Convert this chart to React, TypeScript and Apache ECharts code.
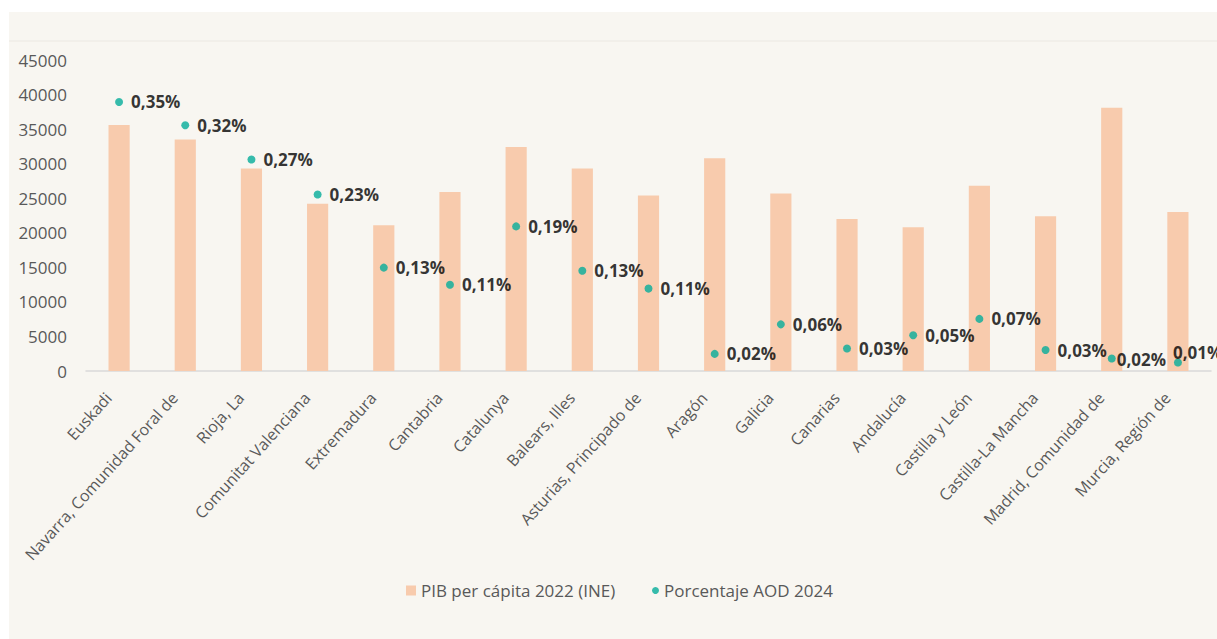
import React, { useEffect, useRef } from "react";
import * as echarts from "echarts";

const categories = [
  "Euskadi",
  "Navarra, Comunidad Foral de",
  "Rioja, La",
  "Comunitat Valenciana",
  "Extremadura",
  "Cantabria",
  "Catalunya",
  "Balears, Illes",
  "Asturias, Principado de",
  "Aragón",
  "Galicia",
  "Canarias",
  "Andalucía",
  "Castilla y León",
  "Castilla-La Mancha",
  "Madrid, Comunidad de",
  "Murcia, Región de",
];

const pibPerCapita = [
  35600, 33500, 29300, 24200, 21100, 25900, 32400, 29300, 25400, 30800, 25700,
  22000, 20800, 26800, 22400, 38100, 23000,
];

const aodPercent = [
  0.346, 0.316, 0.272, 0.227, 0.133, 0.111, 0.186, 0.129, 0.106, 0.022, 0.06,
  0.029, 0.046, 0.067, 0.027, 0.016, 0.011,
];

const yTicks = { min: 0, max: 45000, interval: 5000 };
const y2Range = { min: 0, max: 0.4 };

const seriesNames = ["PIB per cápita 2022 (INE)", "Porcentaje AOD 2024"];

// label nudges for crowded points (index -> offset)
const labelNudges: Record<number, number[]> = {
  15: [-7, 1],
  16: [-17, -10],
};

const FONT = "'Open Sans', 'Noto Sans', sans-serif";

export default function App() {
  const ref = useRef<HTMLDivElement>(null);

  useEffect(() => {
    if (!ref.current) return;
    const chart = echarts.init(ref.current, null, { renderer: "svg" });

    const scatterData = aodPercent.map((v, i) =>
      labelNudges[i]
        ? { value: v, label: { offset: labelNudges[i] } }
        : { value: v }
    );

    chart.setOption({
      animation: false,
      backgroundColor: "#ffffff",
      textStyle: { fontFamily: FONT },
      graphic: [
        {
          type: "rect",
          shape: { x: 9, y: 12, width: 1208, height: 627 },
          style: { fill: "#f8f6f1" },
          silent: true,
          z: -10,
        },
        {
          type: "line",
          shape: { x1: 9, y1: 41, x2: 1217, y2: 41 },
          style: { stroke: "#ebe8e2", lineWidth: 1 },
          silent: true,
          z: -9,
        },
      ],
      legend: [
        {
          data: [seriesNames[0]],
          left: 406,
          top: 582,
          padding: 0,
          itemWidth: 10,
          itemHeight: 10,
          icon: "rect",
          textStyle: { color: "#595959", fontSize: 17, fontFamily: FONT },
        },
        {
          data: [seriesNames[1]],
          left: 652,
          top: 582,
          padding: 0,
          itemWidth: 7,
          itemHeight: 7,
          icon: "circle",
          textStyle: { color: "#595959", fontSize: 17, fontFamily: FONT },
        },
      ],
      grid: { left: 86, right: 6, top: 60, bottom: 268, containLabel: false },
      xAxis: {
        type: "category",
        data: categories,
        axisLine: { lineStyle: { color: "#d9d9d9", width: 1.5 } },
        axisTick: { show: false },
        axisLabel: {
          rotate: 48,
          interval: 0,
          color: "#595959",
          fontSize: 16,
          fontFamily: FONT,
          margin: 12,
          padding: [0, 16, 0, 0],
        },
      },
      yAxis: [
        {
          type: "value",
          min: yTicks.min,
          max: yTicks.max,
          interval: yTicks.interval,
          splitLine: { show: false },
          axisLine: { show: false },
          axisTick: { show: false },
          axisLabel: {
            color: "#595959",
            fontSize: 17,
            fontFamily: FONT,
            margin: 19,
            formatter: (v: number) => String(v),
          },
        },
        {
          type: "value",
          min: y2Range.min,
          max: y2Range.max,
          show: false,
          splitLine: { show: false },
        },
      ],
      series: [
        {
          name: seriesNames[0],
          type: "bar",
          data: pibPerCapita,
          barWidth: "32%",
          itemStyle: { color: "#f8cbad" },
          yAxisIndex: 0,
        },
        {
          name: seriesNames[1],
          type: "scatter",
          data: scatterData,
          yAxisIndex: 1,
          symbol: "circle",
          symbolSize: 8,
          itemStyle: { color: "#05ad9a" },
          label: {
            show: true,
            position: "right",
            distance: 8,
            color: "#000000",
            fontWeight: "bold",
            fontSize: 17,
            fontFamily: FONT,
            formatter: (p: any) =>
              Number(p.value).toFixed(2).replace(".", ",") + "%",
          },
          z: 5,
        },
      ],
    });

    return () => chart.dispose();
  }, []);

  return (
    <div
      ref={ref}
      style={{
        position: "fixed",
        left: 0,
        top: 0,
        width: 1217,
        height: 639,
      }}
    />
  );
}
